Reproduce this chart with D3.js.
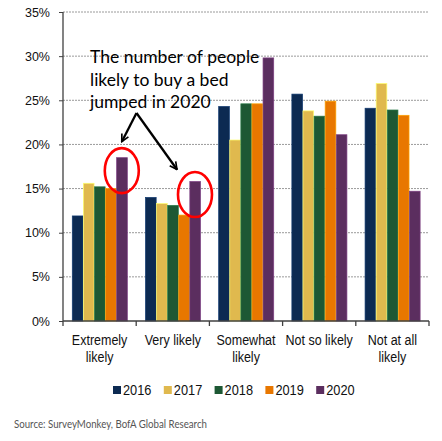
<!DOCTYPE html>
<html lang="en">
  <head>
    <meta charset="UTF-8" />
    <title>Likelihood to buy a bed</title>
    <script src="https://d3js.org/d3.v7.min.js"></script>
    <style>
      body {
        margin: 0;
        background: #fff;
        font-family: 'Liberation Sans', Arial, sans-serif;
      }
      .grid line {
        stroke: #9a9a9a;
        stroke-width: 1px;
        stroke-dasharray: 2, 1;
      }
      .axis-line {
        stroke: #404040;
        stroke-width: 1.3px;
      }
      .note {
        font-family: Lato, 'Open Sans', sans-serif;
        font-size: 17.5px;
        fill: #000;
      }
    </style>
  </head>
  <body>
    <svg width="442" height="441"></svg>
    <script>
      const categories = [
        ['Extremely', 'likely'],
        ['Very likely'],
        ['Somewhat', 'likely'],
        ['Not so likely'],
        ['Not at all', 'likely'],
      ];
      const years = ['2016', '2017', '2018', '2019', '2020'];
      const colors = ['#0c2a52', '#e0b94e', '#1d5834', '#e87700', '#5b2e5f'];

      // share of respondents (%), one array per year
      const values = {
        2016: [11.9, 14.0, 24.3, 25.7, 24.1],
        2017: [15.6, 13.3, 20.5, 23.8, 26.9],
        2018: [15.2, 13.1, 24.6, 23.2, 23.9],
        2019: [15.0, 12.0, 24.6, 24.9, 23.3],
        2020: [18.5, 15.8, 29.8, 21.1, 14.7],
      };
      const yTicks = [0, 5, 10, 15, 20, 25, 30, 35];
      const noteLines = ['The number of people', 'likely to buy a bed', 'jumped in 2020'];
      const source = 'Source: SurveyMonkey, BofA Global Research';

      const svg = d3.select('svg');
      const mLeft = 63,
        mRight = 429,
        mTop = 12,
        mBottom = 321;

      const catKeys = categories.map((c) => c.join(' '));
      const x0 = d3.scaleBand().domain(catKeys).range([mLeft, mRight]);
      const x1 = d3
        .scaleBand()
        .domain(years)
        .range([0, x0.bandwidth()])
        .paddingOuter(0.8);
      const y = d3.scaleLinear().domain([0, 35]).range([mBottom, mTop]);
      const color = d3.scaleOrdinal().domain(years).range(colors);

      // gridlines
      svg
        .append('g')
        .attr('class', 'grid')
        .selectAll('line')
        .data(yTicks.filter((t) => t > 0))
        .join('line')
        .attr('x1', mLeft)
        .attr('x2', mRight)
        .attr('y1', (d) => y(d))
        .attr('y2', (d) => y(d));

      // bars
      const groups = svg
        .append('g')
        .selectAll('g')
        .data(catKeys)
        .join('g')
        .attr('transform', (d) => `translate(${x0(d)},0)`);

      groups
        .selectAll('rect')
        .data((d, i) => years.map((yr) => ({ yr, v: values[yr][i] })))
        .join('rect')
        .attr('x', (d) => x1(d.yr) + 0.4)
        .attr('width', x1.bandwidth() - 0.4)
        .attr('y', (d) => y(d.v))
        .attr('height', (d) => y(0) - y(d.v))
        .attr('fill', (d) => color(d.yr))
        .attr('stroke', (d) => d3.color(color(d.yr)).brighter(0.9))
        .attr('stroke-width', 0.7);

      // y axis
      const yAxis = svg
        .append('g')
        .attr('transform', `translate(${mLeft},0)`)
        .call(
          d3
            .axisLeft(y)
            .tickValues(yTicks)
            .tickSize(4)
            .tickPadding(9)
            .tickFormat((d) => d + '%')
        );
      yAxis.select('.domain').attr('class', 'axis-line').attr('d', `M0,${mTop}V${mBottom}`);
      yAxis.selectAll('.tick line').attr('stroke', '#404040');
      yAxis
        .selectAll('.tick text')
        .attr('fill', '#111')
        .style('font-size', '12.5px')
        .style('font-family', "'Liberation Sans', Arial, sans-serif");

      // x axis line + boundary ticks
      svg
        .append('line')
        .attr('class', 'axis-line')
        .attr('x1', mLeft)
        .attr('x2', mRight)
        .attr('y1', mBottom)
        .attr('y2', mBottom);
      svg
        .append('g')
        .selectAll('line')
        .data(catKeys.map((k) => x0(k)).concat([mRight]))
        .join('line')
        .attr('class', 'axis-line')
        .attr('x1', (d) => d)
        .attr('x2', (d) => d)
        .attr('y1', mBottom)
        .attr('y2', mBottom + 5);

      // category labels (vertically stretched like the source)
      const catLabels = svg
        .append('g')
        .selectAll('g')
        .data(categories)
        .join('g')
        .attr(
          'transform',
          (d, i) => `translate(${x0(catKeys[i]) + x0.bandwidth() / 2},${mBottom + 24}) scale(1,1.18)`
        );
      catLabels
        .selectAll('text')
        .data((d) => d)
        .join('text')
        .attr('y', (d, i) => i * 14.5)
        .attr('text-anchor', 'middle')
        .attr('fill', '#111')
        .style('font-size', '12.5px')
        .text((d) => d);

      // legend
      const legend = svg
        .append('g')
        .selectAll('g')
        .data(years)
        .join('g')
        .attr('transform', (d, i) => `translate(${113 + i * 50.8},386)`);
      legend
        .append('rect')
        .attr('width', 8)
        .attr('height', 8)
        .attr('fill', (d) => color(d));
      legend
        .append('g')
        .attr('transform', 'translate(10,9) scale(1,1.18)')
        .append('text')
        .attr('fill', '#111')
        .style('font-size', '12.8px')
        .text((d) => d);

      // annotation
      svg
        .append('g')
        .selectAll('text')
        .data(noteLines)
        .join('text')
        .attr('class', 'note')
        .attr('x', 90)
        .attr('y', (d, i) => 63 + i * 22.5)
        .text((d) => d);

      svg
        .append('defs')
        .append('marker')
        .attr('id', 'head')
        .attr('viewBox', '0 0 10 10')
        .attr('refX', 9)
        .attr('refY', 5)
        .attr('markerWidth', 4)
        .attr('markerHeight', 4)
        .attr('orient', 'auto')
        .append('path')
        .attr('d', 'M1,1 L9,5 L1,9')
        .attr('fill', 'none')
        .attr('stroke', '#000')
        .attr('stroke-width', 1.8);

      const hi = [0, 1].map((i) => ({
        cx: x0(catKeys[i]) + x1('2020') + x1.bandwidth() / 2,
        top: y(values['2020'][i]),
      }));
      const origin = [136.5, 113];
      svg
        .append('g')
        .selectAll('line')
        .data([
          [hi[0].cx, hi[0].top - 16],
          [hi[1].cx - 18, hi[1].top - 12],
        ])
        .join('line')
        .attr('x1', origin[0])
        .attr('y1', origin[1])
        .attr('x2', (d) => d[0])
        .attr('y2', (d) => d[1])
        .attr('stroke', '#000')
        .attr('stroke-width', 2.3)
        .attr('marker-end', 'url(#head)');

      svg
        .append('g')
        .selectAll('ellipse')
        .data(hi)
        .join('ellipse')
        .attr('cx', (d) => d.cx)
        .attr('cy', (d) => d.top + 13)
        .attr('rx', 17)
        .attr('ry', 22.5)
        .attr('fill', 'none')
        .attr('stroke', '#ff0000')
        .attr('stroke-width', 2.6);

      // source
      svg
        .append('text')
        .attr('x', 14)
        .attr('y', 428)
        .attr('fill', '#555')
        .attr('textLength', 193)
        .attr('lengthAdjust', 'spacingAndGlyphs')
        .style('font-family', "Lato, 'Open Sans', sans-serif")
        .style('font-size', '11.5px')
        .text(source);
    </script>
  </body>
</html>
